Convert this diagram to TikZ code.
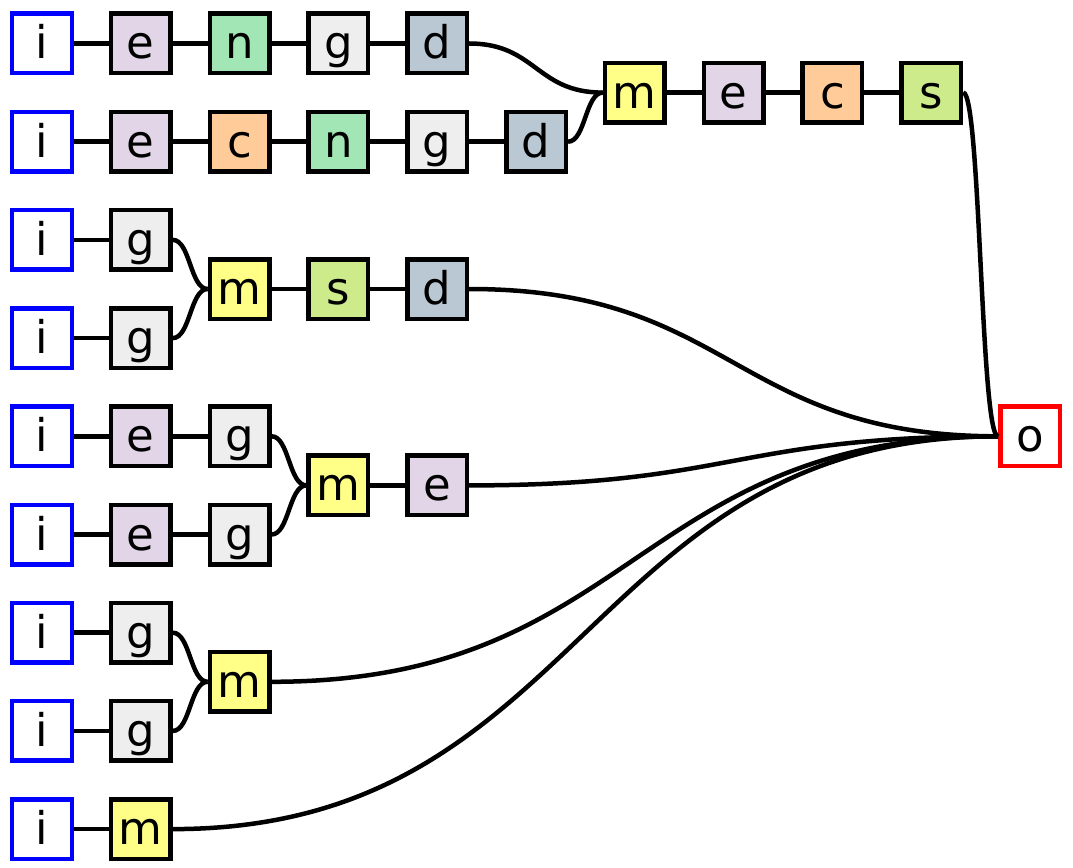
\documentclass[tikz,border=0pt]{standalone}
\usepackage{fontspec}
\setmainfont{DejaVu Sans}
\usetikzlibrary{calc}
\definecolor{ce}{HTML}{E1D5E7}
\definecolor{cn}{HTML}{A3E6B6}
\definecolor{cc}{HTML}{FFCC99}
\definecolor{cg}{HTML}{EEEEEE}
\definecolor{cd}{HTML}{BAC8D3}
\definecolor{cm}{HTML}{FFFF88}
\definecolor{cs}{HTML}{CDEB8B}
\tikzset{
  box/.style={draw=black, line width=4.5pt, minimum width=59.5pt, minimum height=59.5pt, inner sep=0pt,
    font=\fontsize{45}{50}\selectfont, text height=41.8pt, text depth=10.8pt},
  inbox/.style={box, draw=blue, fill=white},
  outbox/.style={box, draw=red, fill=white},
  ebox/.style={box, fill=ce}, nbox/.style={box, fill=cn}, cbox/.style={box, fill=cc},
  gbox/.style={box, fill=cg}, dbox/.style={box, fill=cd}, mbox/.style={box, fill=cm},
  sbox/.style={box, fill=cs},
  link/.style={line width=4.5pt, black},
  hv/.style={link, to path={let \p1=(\tikztostart), \p2=(\tikztotarget) in
    .. controls ({0.5*(\x1+\x2)},\y1) and ({0.5*(\x1+\x2)},\y2) .. (\tikztotarget)}}
}
\begin{document}
\begin{tikzpicture}[x=98.8pt, y=-98.2pt]
\useasboundingbox (-42pt,43.5pt) rectangle (1031pt,-823.5pt);
% group 1
\node[inbox] (a0) at (0,0) {i};
\node[ebox] (a1) at (1,0) {e};
\node[nbox] (a2) at (2,0) {n};
\node[gbox] (a3) at (3,0) {g};
\node[dbox] (a4) at (4,0) {d};
\node[inbox] (b0) at (0,1) {i};
\node[ebox] (b1) at (1,1) {e};
\node[cbox] (b2) at (2,1) {c};
\node[nbox] (b3) at (3,1) {n};
\node[gbox] (b4) at (4,1) {g};
\node[dbox] (b5) at (5,1) {d};
\node[mbox] (t6) at (6,0.5) {m};
\node[ebox] (t7) at (7,0.5) {e};
\node[cbox] (t8) at (8,0.5) {c};
\node[sbox] (t9) at (9,0.5) {s};
% group 2
\node[inbox] (c0) at (0,2) {i};
\node[gbox] (c1) at (1,2) {g};
\node[inbox] (d0) at (0,3) {i};
\node[gbox] (d1) at (1,3) {g};
\node[mbox] (u2) at (2,2.5) {m};
\node[sbox] (u3) at (3,2.5) {s};
\node[dbox] (u4) at (4,2.5) {d};
% group 3
\node[inbox] (e0) at (0,4) {i};
\node[ebox] (e1) at (1,4) {e};
\node[gbox] (e2) at (2,4) {g};
\node[inbox] (f0) at (0,5) {i};
\node[ebox] (f1) at (1,5) {e};
\node[gbox] (f2) at (2,5) {g};
\node[mbox] (v3) at (3,4.5) {m};
\node[ebox] (v4) at (4,4.5) {e};
% group 4
\node[inbox] (g0) at (0,6) {i};
\node[gbox] (g1) at (1,6) {g};
\node[inbox] (h0) at (0,7) {i};
\node[gbox] (h1) at (1,7) {g};
\node[mbox] (w2) at (2,6.5) {m};
% group 5
\node[inbox] (k0) at (0,8) {i};
\node[mbox] (k1) at (1,8) {m};
% output
\node[outbox] (o) at (10,4) {o};
% straight links
\draw[link] (a0) -- (a1) (a1) -- (a2) (a2) -- (a3) (a3) -- (a4);
\draw[link] (b0) -- (b1) (b1) -- (b2) (b2) -- (b3) (b3) -- (b4) (b4) -- (b5);
\draw[link] (t6) -- (t7) (t7) -- (t8) (t8) -- (t9);
\draw[link] (c0) -- (c1) (d0) -- (d1) (u2) -- (u3) (u3) -- (u4);
\draw[link] (e0) -- (e1) (e1) -- (e2) (f0) -- (f1) (f1) -- (f2) (v3) -- (v4);
\draw[link] (g0) -- (g1) (h0) -- (h1) (k0) -- (k1);
% curved links
\draw[hv] (a4.east) to (t6.west);
\draw[hv] (b5.east) to (t6.west);
\draw[hv] (c1.east) to (u2.west);
\draw[hv] (d1.east) to (u2.west);
\draw[hv] (e2.east) to (v3.west);
\draw[hv] (f2.east) to (v3.west);
\draw[hv] (g1.east) to (w2.west);
\draw[hv] (h1.east) to (w2.west);
\draw[hv] (t9.east) to (o.west);
\draw[hv] (u4.east) to (o.west);
\draw[hv] (v4.east) to (o.west);
\draw[hv] (w2.east) to (o.west);
\draw[hv] (k1.east) to (o.west);
\end{tikzpicture}
\end{document}
